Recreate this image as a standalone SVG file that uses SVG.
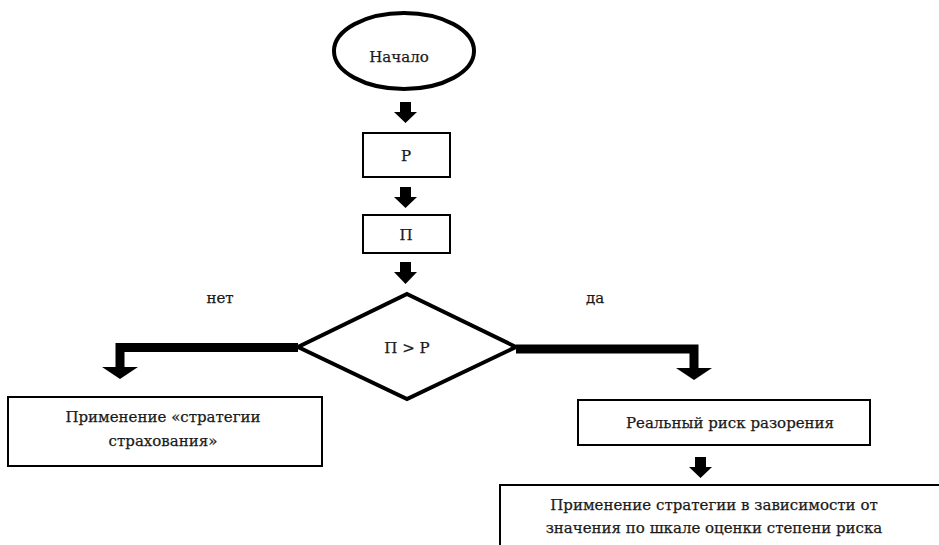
<svg xmlns="http://www.w3.org/2000/svg" width="939" height="545" viewBox="0 0 939 545">
<style>
.box{fill:#fff;stroke:#000;stroke-width:2}
.t{font-family:"DejaVu Serif","Liberation Serif",serif;font-size:15px;fill:#1a1a1a;stroke:#1a1a1a;stroke-width:0.25;text-anchor:middle}
.arr{fill:#000}
.line{fill:none;stroke:#000;stroke-width:9}
</style>
<rect width="939" height="545" fill="#fff"/>
<g id="start">
<ellipse cx="404" cy="51" rx="70" ry="38" fill="#fff" stroke="#000" stroke-width="4"/>
<text class="t" x="399" y="62">Начало</text>
</g>
<g id="nodeP">
<rect class="box" x="363" y="133" width="87" height="44"/>
<text class="t" x="406" y="161">Р</text>
</g>
<g id="nodePi">
<rect class="box" x="363" y="215" width="87" height="38"/>
<text class="t" x="406" y="240">П</text>
</g>
<g id="decision">
<polygon points="407,294 516,347 407,399 298,347" fill="#fff" stroke="#000" stroke-width="4"/>
<text class="t" x="407" y="353">П &gt; Р</text>
</g>
<g id="insurance">
<rect class="box" x="8" y="397" width="314" height="69"/>
<text class="t" x="163" y="422">Применение «стратегии</text>
<text class="t" x="163" y="446">страхования»</text>
</g>
<g id="risk">
<rect class="box" x="578" y="400" width="292" height="45"/>
<text class="t" x="730" y="428">Реальный риск разорения</text>
</g>
<g id="strategy">
<rect class="box" x="500" y="485" width="450" height="80"/>
<text class="t" x="714" y="510">Применение стратегии в зависимости от</text>
<text class="t" x="714" y="533">значения по шкале оценки степени риска</text>
</g>
<g id="labels">
<text class="t" x="220" y="303">нет</text>
<text class="t" x="595" y="303">да</text>
</g>
<g id="connectors">
<polygon class="arr" points="400,102 411,102 411,112 417,112 405.5,123 394,112 400,112"/>
<polygon class="arr" points="400,187 411,187 411,197 417,197 405.5,208 394,197 400,197"/>
<polygon class="arr" points="400,262 411,262 411,272 417,272 405.5,284 394,272 400,272"/>
<polyline class="line" points="298,347.5 120,347.5 120,368"/>
<polygon class="arr" points="102,367 138,367 120,379"/>
<polyline class="line" points="516,349 694,349 694,369"/>
<polygon class="arr" points="676,368 712,368 694,380"/>
<polygon class="arr" points="695,457 706,457 706,467 712,467 700.5,478 689,467 695,467"/>
</g>
</svg>
